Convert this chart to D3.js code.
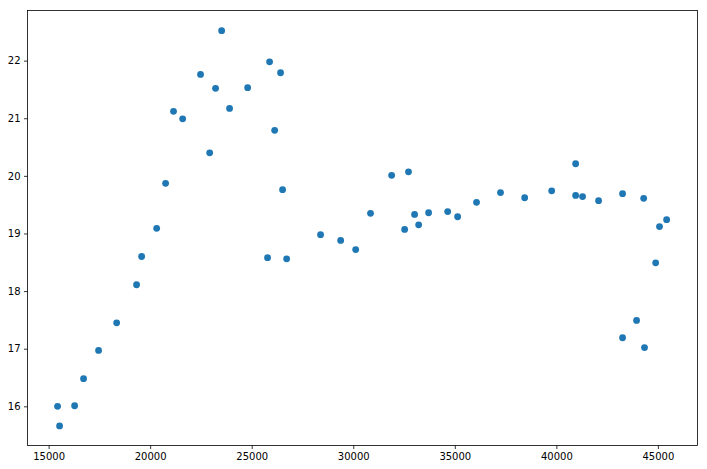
<!DOCTYPE html>
<html>
<head>
<meta charset="utf-8">
<script src="https://cdn.jsdelivr.net/npm/d3@7"></script>
<style>
html,body{margin:0;padding:0;background:#fff;}
svg{display:block;}
</style>
</head>
<body>
<svg id="chart" width="707" height="469"></svg>
<script>
const xValues = [15440,15540,16280,16720,17460,18350,19330,19580,20320,
  20760,21150,21600,22480,22930,23220,23520,23910,
  24800,25880,26420,26130,26520,25780,26720,
  28390,29380,30120,30850,31890,32720,33020,32530,33220,33710,34650,35140,
  36070,37250,38440,39770,40950,40950,41290,42080,43260,44300,45080,45430,
  44890,43950,43260,44340];
const yValues = [16.00,15.66,16.01,16.48,16.97,17.45,18.11,18.60,19.09,
  19.87,21.12,20.99,21.76,20.40,21.52,22.52,21.17,
  21.53,21.98,21.79,20.79,19.76,18.58,18.56,
  18.98,18.88,18.72,19.35,20.01,20.07,19.33,19.07,19.15,19.36,19.38,19.29,
  19.54,19.71,19.62,19.74,20.21,19.66,19.64,19.57,19.69,19.61,19.12,19.24,
  18.49,17.49,17.19,17.02];
const xTicks = [15000,20000,25000,30000,35000,40000,45000];
const yTicks = [16,17,18,19,20,21,22];

const svg = d3.select("#chart");
const L = 27.5, T = 10.5, R = 697.5, B = 445.5;
const x = d3.scaleLinear().domain([13960, 46950]).range([L, R]);
const y = d3.scaleLinear().domain([15.32, 22.87]).range([B, T]);

const font = "'DejaVu Sans', sans-serif";

const xAxis = svg.append("g").attr("transform", `translate(0,${B})`)
  .call(d3.axisBottom(x).tickValues(xTicks).tickFormat(d3.format("d")).tickSize(3.5).tickPadding(3.5));
const yAxis = svg.append("g").attr("transform", `translate(${L},0)`)
  .call(d3.axisLeft(y).tickValues(yTicks).tickFormat(d3.format("d")).tickSize(3.5).tickPadding(3.5));
[xAxis, yAxis].forEach(g => {
  g.select(".domain").remove();
  g.selectAll("text").attr("font-family", font).attr("font-size", 10).attr("fill", "#000");
  g.selectAll("line").attr("stroke", "#000").attr("stroke-width", 0.8);
});

svg.append("rect").attr("x", L).attr("y", T).attr("width", R - L).attr("height", B - T)
  .attr("fill", "none").attr("stroke", "#000").attr("stroke-width", 0.8);

svg.append("g").selectAll("circle").data(xValues.map((v, i) => [v, yValues[i]]))
  .join("circle")
  .attr("cx", d => x(d[0])).attr("cy", d => y(d[1]))
  .attr("r", 3.4).attr("fill", "#1f77b4");
</script>
</body>
</html>
